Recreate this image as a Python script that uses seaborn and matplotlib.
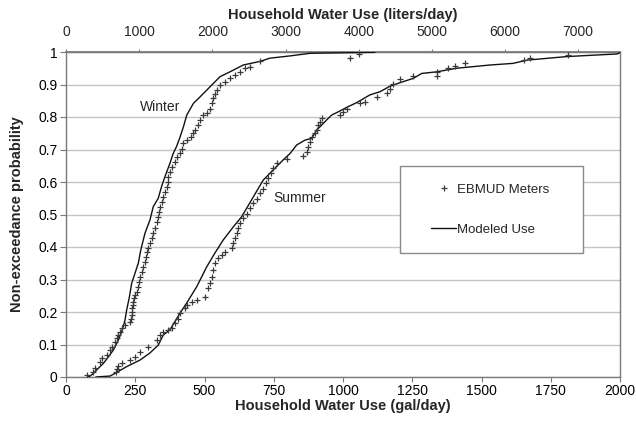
import numpy as np
import pandas as pd
import seaborn as sns
import matplotlib
matplotlib.use("Agg")
import matplotlib.pyplot as plt
from matplotlib.lines import Line2D
from matplotlib.patches import Rectangle

# ---------------- data (gal/day, non-exceedance probability) ----------------
winter_model_gal = [79, 87, 99, 117, 135, 153, 171, 189, 201, 213, 219, 229, 237, 249, 261, 270,
                    285, 303, 315, 333, 345, 357, 375, 387, 399, 412, 424, 436, 460, 484, 520,
                    556, 592, 640, 700, 736, 809, 881, 1115]
winter_model_p = [0.0, 0.003, 0.011, 0.027, 0.042, 0.062, 0.083, 0.114, 0.139, 0.175, 0.206, 0.247,
                  0.288, 0.319, 0.350, 0.391, 0.442, 0.483, 0.524, 0.550, 0.586, 0.616, 0.657,
                  0.688, 0.709, 0.739, 0.770, 0.806, 0.842, 0.862, 0.893, 0.924, 0.939, 0.960,
                  0.971, 0.981, 0.988, 0.996, 0.999]

summer_model_gal = [108, 159, 177, 219, 267, 303, 333, 351, 375, 412, 436, 472, 508, 538, 568, 604,
                    634, 670, 712, 748, 784, 809, 833, 863, 887, 905, 923, 941, 959, 983, 1019,
                    1049, 1097, 1134, 1170, 1218, 1254, 1284, 1338, 1410, 1531, 1614, 1664, 1809,
                    1990, 2000]
summer_model_p = [0.0, 0.003, 0.011, 0.032, 0.052, 0.074, 0.098, 0.129, 0.145, 0.197, 0.228, 0.278,
                  0.339, 0.382, 0.422, 0.462, 0.493, 0.545, 0.606, 0.637, 0.668, 0.688, 0.714,
                  0.729, 0.734, 0.760, 0.775, 0.791, 0.806, 0.816, 0.832, 0.844, 0.868, 0.878,
                  0.895, 0.909, 0.919, 0.934, 0.939, 0.950, 0.960, 0.965, 0.975, 0.986, 0.994,
                  0.998]

winter_meter_gal = [75, 99, 105, 123, 129, 147, 159, 165, 177, 183, 189, 195, 201, 213, 231, 235,
                    237, 239, 240, 241, 243, 245, 249, 255, 261, 264, 267, 273, 279, 285, 289, 293,
                    297, 303, 309, 315, 321, 327, 333, 337, 339, 345, 351, 357, 363, 367, 369, 375,
                    381, 393, 399, 412, 418, 424, 436, 450, 460, 466, 478, 484, 496, 508, 520, 526,
                    532, 538, 544, 556, 574, 592, 610, 628, 646, 664, 700, 1025, 1056]
winter_meter_p = [0.006, 0.016, 0.027, 0.047, 0.057, 0.068, 0.083, 0.093, 0.109, 0.119, 0.129,
                  0.139, 0.150, 0.160, 0.170, 0.180, 0.191, 0.201, 0.211, 0.222, 0.232, 0.242,
                  0.252, 0.263, 0.278, 0.293, 0.309, 0.324, 0.340, 0.355, 0.370, 0.386, 0.396,
                  0.411, 0.427, 0.442, 0.457, 0.478, 0.493, 0.509, 0.524, 0.540, 0.555, 0.570,
                  0.586, 0.601, 0.616, 0.632, 0.647, 0.663, 0.678, 0.688, 0.703, 0.719, 0.729,
                  0.739, 0.750, 0.760, 0.775, 0.790, 0.806, 0.813, 0.826, 0.842, 0.857, 0.872,
                  0.883, 0.898, 0.909, 0.919, 0.929, 0.939, 0.950, 0.955, 0.971, 0.983, 0.994]

summer_meter_gal = [180, 183, 189, 201, 231, 249, 267, 297, 327, 339, 351, 369, 381, 393, 405, 412,
                    429, 436, 454, 472, 502, 514, 520, 526, 532, 538, 550, 562, 574, 598, 604, 610,
                    616, 622, 628, 640, 652, 664, 676, 688, 700, 712, 722, 730, 739, 748, 761, 797,
                    854, 869, 875, 881, 887, 899, 905, 911, 917, 923, 989, 1001, 1013, 1061, 1079,
                    1122, 1158, 1170, 1182, 1206, 1254, 1338, 1338, 1380, 1404, 1440, 1655, 1675,
                    1813]
summer_meter_p = [0.016, 0.026, 0.034, 0.042, 0.052, 0.062, 0.078, 0.093, 0.114, 0.129, 0.139,
                  0.145, 0.150, 0.165, 0.180, 0.196, 0.211, 0.222, 0.232, 0.237, 0.247, 0.273,
                  0.288, 0.309, 0.329, 0.350, 0.365, 0.375, 0.386, 0.396, 0.411, 0.427, 0.442,
                  0.457, 0.473, 0.488, 0.503, 0.519, 0.534, 0.549, 0.565, 0.580, 0.596, 0.611,
                  0.627, 0.642, 0.657, 0.672, 0.680, 0.693, 0.709, 0.724, 0.740, 0.750, 0.760,
                  0.775, 0.785, 0.796, 0.806, 0.816, 0.826, 0.842, 0.847, 0.862, 0.874, 0.885,
                  0.903, 0.916, 0.926, 0.927, 0.937, 0.950, 0.958, 0.965, 0.975, 0.983, 0.992]

x_ticks_gal = [0, 250, 500, 750, 1000, 1250, 1500, 1750, 2000]
x_ticks_liters = [0, 1000, 2000, 3000, 4000, 5000, 6000, 7000]
y_ticks = [0, 0.1, 0.2, 0.3, 0.4, 0.5, 0.6, 0.7, 0.8, 0.9, 1.0]
y_tick_labels = ["0", "0.1", "0.2", "0.3", "0.4", "0.5", "0.6", "0.7", "0.8", "0.9", "1"]
L_PER_GAL = 3.785411784

# ---------------- style ----------------
sns.set_theme(style="white")
plt.rcParams["font.family"] = ["Liberation Sans", "DejaVu Sans"]

fig = plt.figure(figsize=(6.36, 4.22), dpi=100)
ax = fig.add_axes([66 / 636, 45 / 422, 554 / 636, 325 / 422])

line_col = "#111111"
pt_col = "#3a3a3a"
spine_col = "#7a7a7a"

for g, p in [(winter_model_gal, winter_model_p), (summer_model_gal, summer_model_p)]:
    sns.lineplot(x=g, y=p, sort=False, estimator=None, color=line_col, linewidth=1.0, ax=ax,
                 zorder=3)
for g, p in [(winter_meter_gal, winter_meter_p), (summer_meter_gal, summer_meter_p)]:
    sns.scatterplot(x=g, y=p, marker="+", s=18, color=pt_col, linewidth=0.9, ax=ax, zorder=4)

ax.set_xlim(0, 2000)
ax.set_ylim(0, 1)
ax.set_xticks(x_ticks_gal)
ax.set_yticks(y_ticks)
ax.set_yticklabels(y_tick_labels)
ax.yaxis.grid(True, color="#c4c4c4", linewidth=1.0)
ax.set_axisbelow(True)
for s in ax.spines.values():
    s.set_color(spine_col)
    s.set_linewidth(1.0)
ax.tick_params(axis="x", bottom=True, direction="out", length=3.5, width=0.8, color=spine_col,
               labelsize=10, pad=1.5, labelcolor="black")
ax.tick_params(axis="y", left=True, direction="out", length=4, width=0.8, color=spine_col,
               labelsize=10, pad=2, labelcolor="black")

ax.set_xlabel("Household Water Use (gal/day)", fontsize=10.5, fontweight="bold", labelpad=1)
ax.set_ylabel("Non-exceedance probability", fontsize=10.5, fontweight="bold", labelpad=10)

secax = ax.secondary_xaxis("top", functions=(lambda g: g * L_PER_GAL, lambda l: l / L_PER_GAL))
secax.set_xticks(x_ticks_liters)
secax.tick_params(direction="out", length=2.5, width=0.8, color=spine_col, labelsize=10, pad=7)
secax.spines["top"].set_color(spine_col)
secax.set_xlabel("Household Water Use (liters/day)", fontsize=10.5, fontweight="bold", labelpad=4)

ax.text(340, 0.83, "Winter", fontsize=10, ha="center", va="center")
ax.text(845, 0.55, "Summer", fontsize=10, ha="center", va="center")

# legend box
ax.add_patch(Rectangle((0.602, 0.381), 0.331, 0.268, transform=ax.transAxes, facecolor="white",
                       edgecolor="#8a8a8a", linewidth=1.0, zorder=5))
handles = [Line2D([], [], linestyle="none", marker="+", markersize=5, color=pt_col,
                  markeredgewidth=0.9),
           Line2D([], [], color=line_col, linewidth=1.0)]
leg = ax.legend(handles, ["EBMUD Meters", "Modeled Use"], loc="center left",
                bbox_to_anchor=(0.659, 0.515), frameon=False, fontsize=9.5, handlelength=1.9,
                handletextpad=0.05, labelspacing=2.1, borderpad=0, borderaxespad=0)
leg.set_zorder(6)

fig.savefig("out.png", dpi=100)
